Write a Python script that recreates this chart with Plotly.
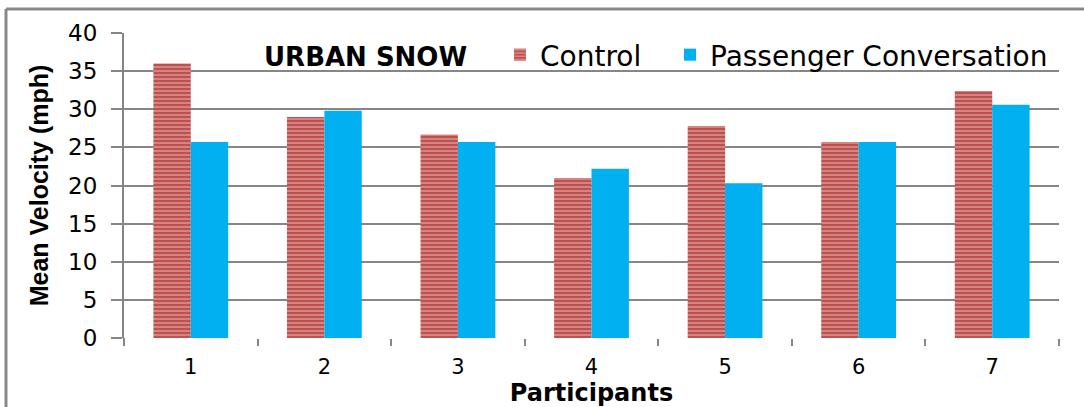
import plotly.graph_objects as go

participants = ["1", "2", "3", "4", "5", "6", "7"]
control = [36.0, 29.0, 26.7, 21.0, 27.8, 25.7, 32.4]
conversation = [25.7, 29.8, 25.7, 22.2, 20.3, 25.7, 30.6]
y_ticks = [0, 5, 10, 15, 20, 25, 30, 35, 40]

RED = "#C0504D"
BLUE = "#00B0F0"
GRID = "#868686"

fig = go.Figure()
fig.add_trace(go.Bar(
    x=participants, y=control, name="Control", legend="legend",
    marker=dict(color=RED, line=dict(width=0),
                pattern=dict(shape="-", fgcolor="white", bgcolor=RED,
                             size=4, solidity=0.3, fillmode="overlay")),
))
fig.add_trace(go.Bar(
    x=participants, y=conversation, name="Passenger Conversation", legend="legend2",
    marker=dict(color=BLUE, line=dict(width=0)),
))

legend_style = dict(orientation="h", xanchor="left", y=0.928, yanchor="middle",
                    font=dict(size=28, family="DejaVu Sans"), bgcolor="rgba(0,0,0,0)",
                    itemwidth=30)

fig.update_layout(
    width=1084, height=407,
    margin=dict(l=124, r=25, t=33, b=69),
    paper_bgcolor="white", plot_bgcolor="white",
    barmode="group", bargap=0.44, bargroupgap=0,
    font=dict(family="DejaVu Sans", color="black"),
    showlegend=True,
    legend=dict(x=(500 - 124) / 935, **legend_style),
    legend2=dict(x=(670 - 124) / 935, **legend_style),
    xaxis=dict(showgrid=False, showline=False, zeroline=False, automargin=False,
               ticks="outside", tickson="boundaries", ticklen=7, tickcolor=GRID, tickwidth=2,
               tickfont=dict(size=21), ticklabelstandoff=14,
               title=dict(text="<b>Participants</b>", font=dict(size=24), standoff=2)),
    yaxis=dict(range=[0, 40], tickvals=y_ticks, showgrid=True, gridcolor=GRID, gridwidth=1.5,
               zeroline=False, showline=True, linecolor=GRID, linewidth=2, automargin=False,
               ticks="outside", ticklen=11, tickcolor=GRID, tickwidth=1.5,
               tickfont=dict(size=23), ticklabelstandoff=9,
               title=dict(text="<b>Mean Velocity (mph)</b>",
                          font=dict(size=25, family="Liberation Sans"), standoff=12)),
    annotations=[dict(text="<b>URBAN SNOW</b>", xref="paper", yref="paper",
                      x=(365 - 124) / 935, y=1 - (57 - 33) / 305,
                      xanchor="center", yanchor="middle", showarrow=False,
                      font=dict(size=26, family="DejaVu Sans"))],
    shapes=[
        dict(type="line", xref="paper", yref="paper",
             x0=(6 - 124) / 935, x1=(1090 - 124) / 935,
             y0=1 + (33 - 9) / 305, y1=1 + (33 - 9) / 305,
             line=dict(color="#898989", width=3)),
        dict(type="line", xref="paper", yref="paper",
             x0=(6 - 124) / 935, x1=(6 - 124) / 935,
             y0=1 + (33 - 9) / 305, y1=-(420 - 338) / 305,
             line=dict(color="#898989", width=3)),
        dict(type="line", xref="paper", yref="paper",
             x0=0, x1=0, y0=0, y1=-(345 - 338) / 305,
             line=dict(color=GRID, width=2)),
    ],
)

fig.write_html("out.html")
